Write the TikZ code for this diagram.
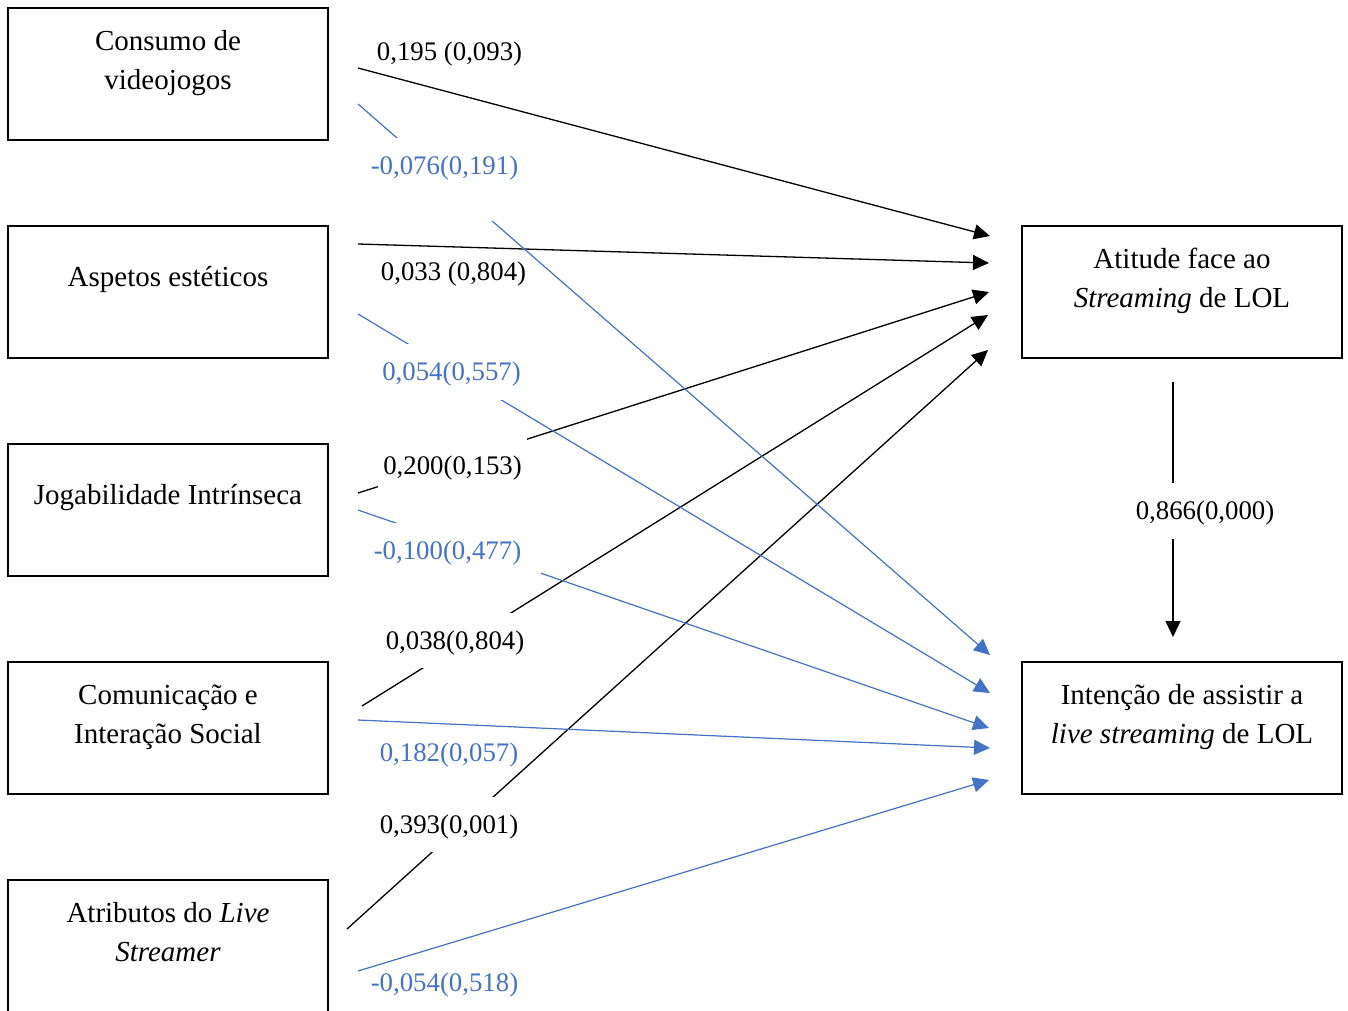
\documentclass[tikz,border=0pt]{standalone}
\usepackage{fontspec}
\setmainfont{Liberation Serif}
\usetikzlibrary{arrows.meta}
\definecolor{azul}{HTML}{4472C4}
\begin{document}
\begin{tikzpicture}[x=1pt,y=-1pt,
  varbox/.style={draw,line width=2.5pt,minimum width=320pt,minimum height=132pt,inner sep=0pt,outer sep=0pt,anchor=north west},
  vartext/.style={align=center,inner sep=0pt,font=\fontsize{29}{38.5}\selectfont},
  coef/.style={inner sep=0pt,anchor=base,font=\fontsize{26.8}{32}\selectfont},
  gapbox/.style={coef,fill=white},
  conn/.style={line width=1.3pt,-{Triangle[length=16pt,width=15pt]}},
  bconn/.style={conn,draw=azul,fill=azul,line width=1.2pt},
]
\useasboundingbox (0,0) rectangle (1348,1011);

% boxes
\node[varbox] (v1) at (8,8) {};
\node[varbox] (v2) at (8,226) {};
\node[varbox] (v3) at (8,444) {};
\node[varbox] (v4) at (8,662) {};
\node[varbox,minimum height=145pt] (v5) at (8,880) {};
\node[varbox] (att) at (1022,226) {};
\node[varbox] (int) at (1022,662) {};

% box texts
\node[vartext,anchor=north] (t1) at (168,23.8) {\strut Consumo de\\\strut videojogos};
\node[vartext,anchor=base] (t2) at (168,286) {Aspetos estéticos};
\node[vartext,anchor=base] (t3) at (168,504) {Jogabilidade Intrínseca};
\node[vartext,anchor=north] (t4) at (168,677.8) {\strut Comunicação e\\\strut Interação Social};
\node[vartext,anchor=north] (t5) at (168,895.8) {\strut Atributos do \textit{Live}\\\strut \textit{Streamer}};
\node[vartext,anchor=north] (ta) at (1182,241.8) {\strut Atitude face ao\\\strut \textit{Streaming} de LOL};
\node[vartext,anchor=north] (ti) at (1182,677.8) {\strut Intenção de assistir a\\\strut \textit{live streaming} de LOL};

% connector end points
\coordinate (s1) at (358,68);  \coordinate (e1) at (990,236);
\coordinate (s2) at (358,244); \coordinate (e2) at (989,263);
\coordinate (s3) at (358,493); \coordinate (e3) at (989,292);
\coordinate (s4) at (362,706); \coordinate (e4) at (988,315);
\coordinate (s5) at (347,929); \coordinate (e5) at (988,350);
\coordinate (u1) at (358,104); \coordinate (f1) at (990,655);
\coordinate (u2) at (358,314); \coordinate (f2) at (990,693);
\coordinate (u3) at (358,510); \coordinate (f3) at (989,728);
\coordinate (u4) at (358,720); \coordinate (f4) at (990,748);
\coordinate (u5) at (358,971); \coordinate (f5) at (989,780);
\coordinate (m1) at (1173,382); \coordinate (m2) at (1173,637);

% connectors
\draw[conn] (s1) -- (e1);
\draw[conn] (s2) -- (e2);
\draw[conn] (s3) -- (e3);
\draw[conn] (s4) -- (e4);
\draw[conn] (s5) -- (e5);
\draw[bconn] (u1) -- (f1);
\draw[bconn] (u2) -- (f2);
\draw[bconn] (u3) -- (f3);
\draw[bconn] (u4) -- (f4);
\draw[bconn] (u5) -- (f5);
\draw[conn] (m1) -- (m2);

% coefficients
\node[coef] (k1) at (449.5,60.5) {0,195 (0,093)};
\node[gapbox,text=azul,text height=37pt,text depth=46pt,minimum width=160pt] (k2) at (444.5,175) {-0,076(0,191)};
\node[coef] (k3) at (453.5,280.5) {0,033 (0,804)};
\node[gapbox,text=azul,text height=36pt,text depth=20pt,minimum width=150pt] (k4) at (451.5,380) {0,054(0,557)};
\node[gapbox,text height=36pt,text depth=19pt,minimum width=149pt] (k5) at (452.5,474) {0,200(0,153)};
\node[gapbox,text=azul,text height=36pt,text depth=19pt,minimum width=187pt] (k6) at (447.5,559) {-0,100(0,477)};
\node[gapbox,text height=36pt,text depth=19pt,minimum width=160pt] (k7) at (455,649) {0,038(0,804)};
\node[coef,text=azul] (k8) at (449,761) {0,182(0,057)};
\node[gapbox,text height=36pt,text depth=19pt,minimum width=150pt] (k9) at (449,833) {0,393(0,001)};
\node[coef,text=azul] (k10) at (444.5,991) {-0,054(0,518)};
\node[gapbox,text height=36pt,text depth=20pt,minimum width=150pt] (k11) at (1205,519) {0,866(0,000)};
\end{tikzpicture}
\end{document}
